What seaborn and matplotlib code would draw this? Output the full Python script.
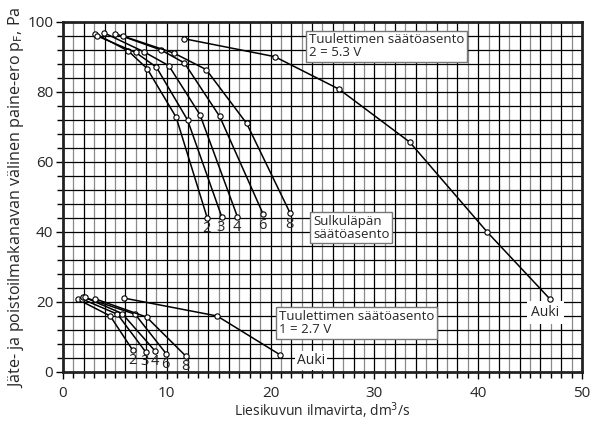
import matplotlib
matplotlib.use("Agg")
import matplotlib.pyplot as plt
import seaborn as sns
import pandas as pd
import numpy as np

# ---- data ----
positions = ["2", "3", "4", "6", "8", "Auki"]

# fan setting 2 = 5.3 V
top_x = {
    "2": [3.1, 6.3, 8.1, 10.9, 13.9],
    "3": [3.3, 7.0, 9.0, 12.0, 15.3],
    "4": [3.95, 7.85, 10.2, 13.2, 16.8],
    "6": [5.0, 9.45, 11.7, 15.1, 19.3],
    "8": [5.75, 10.7, 13.8, 17.7, 21.9],
    "Auki": [11.7, 20.4, 26.6, 33.4, 40.9, 46.9],
}
top_y = {
    "2": [96.7, 91.7, 86.7, 72.8, 44.0],
    "3": [96.0, 91.3, 87.1, 72.0, 44.3],
    "4": [96.9, 91.4, 87.5, 73.5, 44.4],
    "6": [96.7, 92.0, 88.3, 73.0, 45.0],
    "8": [96.0, 91.1, 86.4, 71.0, 45.3],
    "Auki": [95.2, 90.1, 80.8, 65.7, 39.9, 20.9],
}

# fan setting 1 = 2.7 V
bot_x = {
    "2": [1.4, 4.55, 6.7],
    "3": [1.8, 5.25, 7.95],
    "4": [1.95, 5.7, 8.9],
    "6": [2.1, 6.95, 9.95],
    "8": [3.1, 8.05, 11.85],
    "Auki": [5.9, 14.85, 20.95],
}
bot_y = {
    "2": [20.8, 16.0, 6.3],
    "3": [20.9, 16.5, 5.8],
    "4": [21.5, 16.7, 5.9],
    "6": [21.3, 16.5, 5.2],
    "8": [20.9, 15.7, 4.5],
    "Auki": [21.1, 16.0, 4.85],
}

rows = []
for grp, dx, dy in (("top", top_x, top_y), ("bot", bot_x, bot_y)):
    for p in positions:
        for i, (xv, yv) in enumerate(zip(dx[p], dy[p])):
            rows.append({"unit": f"{grp}-{p}", "x": xv, "y": yv, "order": i})
df = pd.DataFrame(rows)

sns.set_style("white")
plt.rcParams["font.family"] = ["Open Sans", "DejaVu Sans"]

fig = plt.figure(figsize=(5.92, 4.23), dpi=100)
ax = fig.add_axes([0.1064, 0.1206, 0.8766, 0.8274])

# grid
for v in range(1, 50):
    ax.axvline(v, color="black" if v % 2 == 0 else "#8a8a8a", lw=0.9, zorder=0)
for h in range(4, 100, 4):
    ax.axhline(h, color="black", lw=0.9, zorder=0)

sns.lineplot(data=df, x="x", y="y", units="unit", estimator=None, sort=False,
             color="black", lw=1.1, marker="o", markersize=3.8,
             markerfacecolor="white", markeredgecolor="black",
             markeredgewidth=0.8, ax=ax, zorder=3)

ax.set_xlim(0, 50)
ax.set_ylim(0, 100)
ax.set_xticks(range(0, 51, 10))
ax.set_xticks(range(0, 51, 1), minor=True)
ax.set_yticks(range(0, 101, 20))
ax.set_yticks(range(0, 101, 4), minor=True)
ax.tick_params(axis="both", which="both", direction="out", length=4, width=1,
               color="black", labelsize=11, bottom=True, left=True)
ax.tick_params(axis="x", which="major", length=5, pad=5)
ax.tick_params(axis="y", which="major", length=5, pad=2)
for s in ax.spines.values():
    s.set_linewidth(2)
    s.set_color("#222222")

ax.set_xlabel("Liesikuvun ilmavirta, dm$^3$/s", fontsize=10, labelpad=0)
ax.set_ylabel("Jäte- ja poistoilmakanavan välinen paine-ero p$_\\mathrm{F}$, Pa",
              fontsize=11.6)
ax.yaxis.set_label_coords(-0.072, 0.5)

# damper-position labels
for p in positions[:-1]:
    ax.text(top_x[p][-1] - 0.1, top_y[p][-1] - 1.0, p, ha="center", va="top",
            fontsize=10.5, zorder=4)
    ax.text(bot_x[p][-1] - 0.05, bot_y[p][-1] - 0.8, p, ha="center", va="top",
            fontsize=10.5, zorder=4)

box = dict(boxstyle="square,pad=0.2", fc="white", ec="#777777", lw=1)
ax.text(23.7, 93.0, "Tuulettimen säätöasento\n2 = 5.3 V", fontsize=9.5,
        ha="left", va="center", bbox=box, zorder=5, linespacing=1.0)
ax.text(24.1, 41.2, "Sulkuläpän\nsäätöasento", fontsize=9.5,
        ha="left", va="center", bbox=box, zorder=5, linespacing=1.0)
ax.text(20.8, 14.0, "Tuulettimen säätöasento\n1 = 2.7 V", fontsize=9.5,
        ha="left", va="center", bbox=box, zorder=5, linespacing=1.0)
wbox = dict(boxstyle="square,pad=0.3", fc="white", ec="none")
ax.text(46.5, 17.0, "Auki", fontsize=10, ha="center", va="center",
        bbox=wbox, zorder=2)
ax.text(23.9, 3.3, "Auki", fontsize=10, ha="center", va="center",
        bbox=dict(boxstyle="square,pad=0.15", fc="white", ec="none"), zorder=2)

fig.savefig("out.png", dpi=100)
